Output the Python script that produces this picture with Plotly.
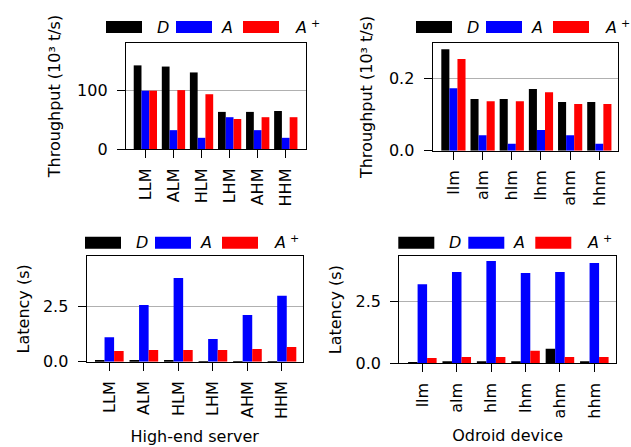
import plotly.graph_objects as go

# ---------------- data ----------------
server_cats = ["LLM", "ALM", "HLM", "LHM", "AHM", "HHM"]
odroid_cats = ["llm", "alm", "hlm", "lhm", "ahm", "hhm"]
series_names = ["D", "A", "A+"]
series_colors = ["black", "blue", "red"]

server_thr_D = [142, 140, 130, 63, 63, 64.5]
server_thr_A = [99, 32, 19, 54, 32, 19]
server_thr_Ap = [99, 100, 93, 51, 54, 54]

odroid_thr_D = [0.281, 0.143, 0.143, 0.171, 0.135, 0.135]
odroid_thr_A = [0.173, 0.043, 0.019, 0.057, 0.043, 0.019]
odroid_thr_Ap = [0.254, 0.137, 0.137, 0.162, 0.129, 0.129]

server_lat_D = [0.04, 0.04, 0.04, 0.01, 0.01, 0.01]
server_lat_A = [1.11, 2.58, 3.80, 1.03, 2.12, 2.99]
server_lat_Ap = [0.49, 0.53, 0.53, 0.53, 0.58, 0.67]

odroid_lat_D = [0.05, 0.08, 0.08, 0.08, 0.58, 0.08]
odroid_lat_A = [3.18, 3.67, 4.11, 3.63, 3.67, 4.03]
odroid_lat_Ap = [0.21, 0.25, 0.25, 0.50, 0.25, 0.25]

W, H = 631, 447
FONT = "DejaVu Sans"
FS = 16

panels = [
    ("", server_cats, [server_thr_D, server_thr_A, server_thr_Ap], (126, 306), (43, 149),
     [-0.69, 5.72], [0, 180], 100, "d", "Throughput (10³ t/s)", None, (106, 27), 12),
    ("2", odroid_cats, [odroid_thr_D, odroid_thr_A, odroid_thr_Ap], (432.7, 618.3), (43, 150.7),
     [-0.71, 5.65], [0, 0.298], 0.2, ".1f", "Throughput (10³ t/s)", None, (416, 27), 12),
    ("3", server_cats, [server_lat_D, server_lat_A, server_lat_Ap], (86.7, 302.7), (256, 361.7),
     [-0.655, 5.6], [0, 4.8], 2.5, ".1f", "Latency (s)", "High-end server", (85, 242.7), 9),
    ("4", odroid_cats, [odroid_lat_D, odroid_lat_A, odroid_lat_Ap], (399.3, 616), (256, 363.3),
     [-0.67, 5.63], [0, 4.31], 2.5, ".1f", "Latency (s)", "Odroid device", (398.3, 242.7), 9),
]

fig = go.Figure()
layout = dict(
    width=W, height=H,
    margin=dict(l=0, r=0, t=0, b=0, autoexpand=False),
    paper_bgcolor="white", plot_bgcolor="white",
    barmode="group", bargap=0.17, bargroupgap=0,
    showlegend=False,
    font=dict(family=FONT, size=FS, color="black"),
)
shapes = []
annotations = []

def add_text(txt, xpx, ypx, anchor, size):
    annotations.append(dict(text=txt, xref="paper", yref="paper",
                            x=xpx / W, y=1 - ypx / H,
                            xanchor=anchor, yanchor="middle", showarrow=False,
                            font=dict(size=size, family=FONT, color="black", style="italic")))

for suf, cats, series, xd, yd, xr, yr, dt, fmt, ytitle, xtitle, lg, ystand in panels:
    xa = "x" + suf
    ya = "y" + suf
    for vals, name, col in zip(series, series_names, series_colors):
        fig.add_trace(go.Bar(x=cats, y=vals, name=name, marker=dict(color=col, line=dict(width=0)),
                             xaxis=xa, yaxis=ya, offsetgroup=name))
    xaxis = dict(
        domain=[xd[0] / W, xd[1] / W], anchor=ya, range=xr, type="category",
        automargin=False,
        showline=True, linecolor="black", linewidth=1.3, mirror=True,
        ticks="outside", ticklen=8, tickwidth=1.3, tickcolor="black",
        ticklabelstandoff=4,
        tickangle=-90, tickfont=dict(size=FS, family=FONT),
        showgrid=False, zeroline=False,
    )
    if xtitle:
        xaxis["title"] = dict(text=xtitle, font=dict(size=FS, family=FONT), standoff=12)
    layout["xaxis" + suf] = xaxis
    layout["yaxis" + suf] = dict(
        domain=[1 - yd[1] / H, 1 - yd[0] / H], anchor=xa, range=yr,
        automargin=False,
        showline=True, linecolor="black", linewidth=1.3, mirror=True,
        ticks="outside", ticklen=8, tickwidth=1.3, tickcolor="black",
        ticklabelstandoff=6,
        dtick=dt, tick0=0, tickformat=fmt, tickfont=dict(size=FS, family=FONT),
        showgrid=True, gridcolor="#b0b0b0", gridwidth=1, zeroline=False,
        title=dict(text=ytitle, font=dict(size=FS, family=FONT), standoff=ystand),
    )
    # legend drawn above each panel: swatch, then label
    x0, ym = lg
    box_offsets = [0, 70, 137]
    for bo, col in zip(box_offsets, series_colors):
        shapes.append(dict(type="rect", xref="paper", yref="paper",
                           x0=(x0 + bo) / W, x1=(x0 + bo + 36) / W,
                           y0=1 - (ym + 6) / H, y1=1 - (ym - 6) / H,
                           fillcolor=col, line=dict(width=0)))
    add_text("D", x0 + 57, ym, "center", FS)
    add_text("A", x0 + 121, ym, "center", FS)
    add_text("A", x0 + 187, ym, "left", FS)
    add_text("+", x0 + 209.5, ym - 4, "center", 11)

layout["shapes"] = shapes
layout["annotations"] = annotations
fig.update_layout(**layout)
fig.write_html("out.html", config={"displayModeBar": False},
               post_script="document.body.style.margin='0';")
